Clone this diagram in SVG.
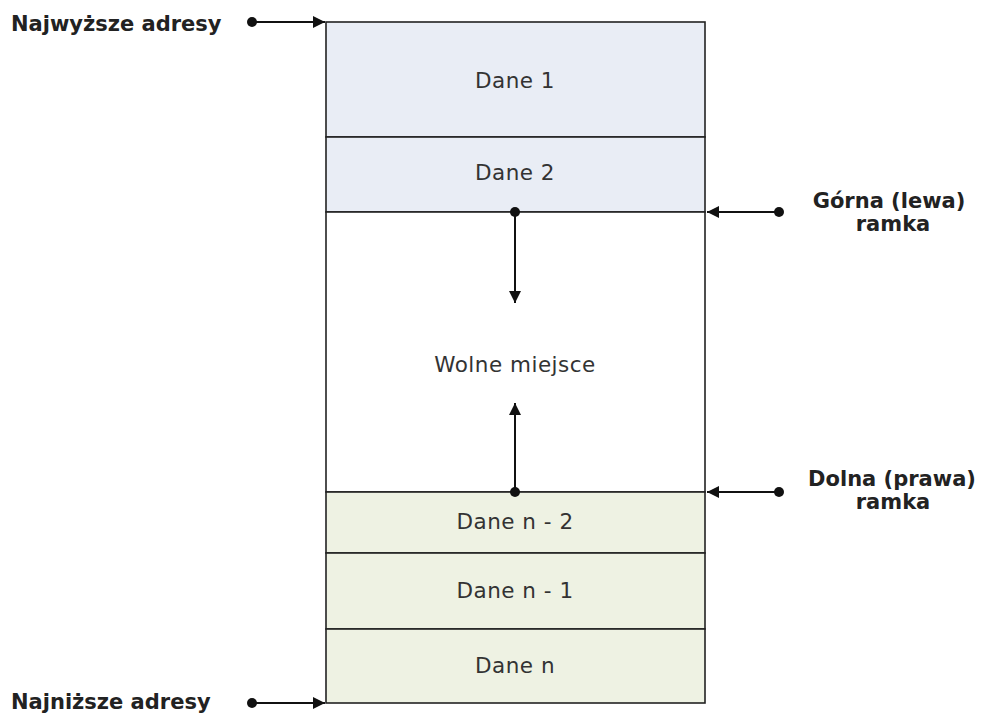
<svg xmlns="http://www.w3.org/2000/svg" width="984" height="713" viewBox="0 0 984 713">
  <style>
    .cell { stroke: #222; stroke-width: 1.6; }
    .hi { fill: #e9edf5; }
    .lo { fill: #eef2e3; }
    .free { fill: #ffffff; }
    .txt { font-family: "DejaVu Sans", Verdana, sans-serif; font-size: 21.5px; letter-spacing: 0.5px; fill: #333; text-anchor: middle; }
    .lbl { font-family: "DejaVu Sans", Verdana, sans-serif; font-size: 21px; font-weight: bold; fill: #222; }
    .wire { stroke: #111; stroke-width: 2; fill: none; }
    .dot { fill: #111; }
  </style>
  <defs>
    <marker id="head" viewBox="0 0 10 10" refX="10" refY="5" markerWidth="6" markerHeight="6" orient="auto" markerUnits="strokeWidth">
      <path d="M0,0 L10,5 L0,10 z" fill="#111"/>
    </marker>
  </defs>
  <rect width="984" height="713" fill="#ffffff"/>

  <!-- memory cells, top to bottom -->
  <g id="dane1"><rect class="cell hi" x="326" y="22" width="379" height="115"/><text class="txt" x="515" y="88">Dane 1</text></g>
  <g id="dane2"><rect class="cell hi" x="326" y="137" width="379" height="75"/><text class="txt" x="515" y="180">Dane 2</text></g>
  <g id="wolne"><rect class="cell free" x="326" y="212" width="379" height="280"/><text class="txt" x="515" y="372">Wolne miejsce</text></g>
  <g id="danen2"><rect class="cell lo" x="326" y="492" width="379" height="61"/><text class="txt" x="515" y="529">Dane n - 2</text></g>
  <g id="danen1"><rect class="cell lo" x="326" y="553" width="379" height="76"/><text class="txt" x="515" y="598">Dane n - 1</text></g>
  <g id="danen"><rect class="cell lo" x="326" y="629" width="379" height="74"/><text class="txt" x="515" y="673">Dane n</text></g>

  <!-- side labels -->
  <g id="najwyzsze"><text class="lbl" x="11" y="31">Najwyższe adresy</text></g>
  <g id="najnizsze"><text class="lbl" x="11" y="709">Najniższe adresy</text></g>
  <g id="gorna"><text class="lbl" x="889" y="208" text-anchor="middle">Górna (lewa)</text><text class="lbl" x="893" y="231" text-anchor="middle">ramka</text></g>
  <g id="dolna"><text class="lbl" x="892" y="486" text-anchor="middle">Dolna (prawa)</text><text class="lbl" x="893" y="509" text-anchor="middle">ramka</text></g>

  <!-- connectors -->
  <g id="connectors">
    <line class="wire" x1="252" y1="22" x2="325" y2="22" marker-end="url(#head)"/>
    <circle class="dot" cx="252" cy="22" r="5"/>
    <line class="wire" x1="252" y1="703" x2="325" y2="703" marker-end="url(#head)"/>
    <circle class="dot" cx="252" cy="703" r="5"/>
    <line class="wire" x1="779" y1="212" x2="707" y2="212" marker-end="url(#head)"/>
    <circle class="dot" cx="779" cy="212" r="5"/>
    <line class="wire" x1="779" y1="492" x2="707" y2="492" marker-end="url(#head)"/>
    <circle class="dot" cx="779" cy="492" r="5"/>
    <line class="wire" x1="515" y1="212" x2="515" y2="303" marker-end="url(#head)"/>
    <circle class="dot" cx="515" cy="212" r="5"/>
    <line class="wire" x1="515" y1="492" x2="515" y2="403" marker-end="url(#head)"/>
    <circle class="dot" cx="515" cy="492" r="5"/>
  </g>
</svg>
